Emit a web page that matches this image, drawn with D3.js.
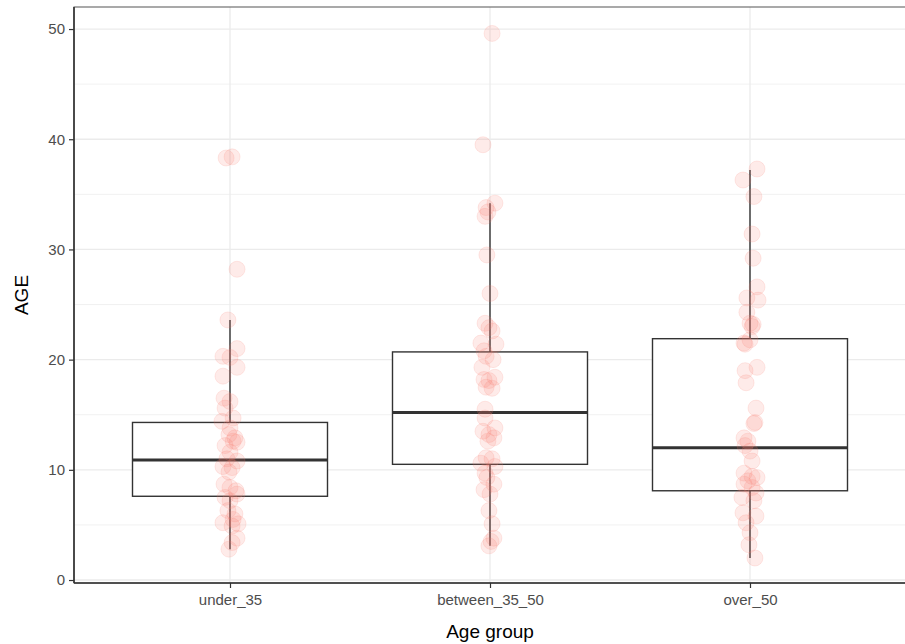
<!DOCTYPE html>
<html>
<head>
<meta charset="utf-8">
<script src="https://cdn.jsdelivr.net/npm/d3@7"></script>
<style>
  body { margin: 0; background: #fff; }
  text { font-family: "Liberation Sans", Arial, sans-serif; }
</style>
</head>
<body>
<div id="chart"></div>
<script>
// categories and box statistics
var groups = ["under_35", "between_35_50", "over_50"];
var whiskerLow = [2.8, 3.1, 2.0];
var lowerHinge = [7.6, 10.5, 8.1];
var medians = [10.9, 15.2, 12.0];
var upperHinge = [14.3, 20.7, 21.9];
var whiskerHigh = [23.6, 34.2, 37.2];

// jittered observations (value, horizontal jitter in category units)
var under35Age = [38.3, 38.4, 28.2, 23.6, 21.0, 20.3, 20.2, 19.3, 18.5, 16.5, 16.2, 15.6, 14.7, 14.4, 13.8, 13.2, 12.9, 12.6, 12.5, 12.2, 11.6, 11.0, 10.8, 10.3, 10.2, 9.8, 8.7, 8.4, 8.1, 7.8, 7.5, 7.2, 6.3, 6.0, 5.5, 5.2, 5.1, 4.9, 3.8, 3.4, 2.8];
var under35Jitter = [-0.015, 0.008, 0.027, -0.008, 0.027, -0.027, 0, 0.027, -0.027, -0.023, 0, -0.019, 0.012, -0.031, 0, -0.004, 0.019, 0.012, 0.027, -0.019, 0, -0.012, 0.027, -0.027, 0.008, -0.004, -0.023, 0, 0.023, 0.027, -0.019, 0, -0.008, 0.019, 0.012, -0.027, 0.031, 0.008, 0.027, 0.008, -0.004];

var betweenAge = [49.6, 39.5, 34.2, 33.8, 33.4, 33.0, 29.5, 26.0, 23.3, 22.9, 22.6, 21.5, 21.4, 20.8, 20.3, 20.0, 19.3, 18.4, 18.2, 18.1, 17.5, 17.4, 15.5, 14.7, 13.8, 13.5, 13.2, 12.9, 12.6, 11.1, 11.0, 10.6, 10.3, 9.7, 9.3, 8.7, 8.2, 7.8, 6.3, 5.1, 3.8, 3.5, 3.1];
var betweenJitter = [0.008, -0.027, 0.019, -0.015, -0.008, -0.019, -0.012, 0, -0.019, -0.004, 0.008, -0.035, 0.023, -0.023, -0.015, 0.012, -0.031, 0.019, -0.023, -0.004, -0.015, 0.008, -0.019, -0.019, 0.019, -0.027, -0.004, 0.015, -0.008, -0.015, 0.008, -0.035, 0.019, -0.019, -0.012, 0.015, -0.023, 0, -0.004, 0.008, 0.015, 0.004, -0.004];

var over50Age = [37.3, 36.3, 34.8, 31.4, 29.2, 26.6, 25.6, 25.4, 24.3, 23.3, 23.2, 23.0, 21.8, 21.5, 21.4, 19.3, 19.0, 17.9, 15.6, 14.3, 14.2, 12.9, 12.6, 12.2, 11.7, 10.8, 9.7, 9.4, 9.3, 9.0, 8.7, 8.4, 7.9, 7.5, 7.2, 6.1, 5.8, 5.2, 4.3, 3.2, 2.0];
var over50Jitter = [0.027, -0.027, 0.015, 0.008, 0.012, 0.027, -0.012, 0.031, -0.012, 0, 0.012, 0.008, 0, -0.023, -0.019, 0.027, -0.019, -0.015, 0.023, 0.019, 0.015, -0.023, -0.008, -0.019, 0, 0.008, -0.023, 0.008, 0.027, -0.008, -0.023, 0.008, 0.023, -0.031, 0.015, -0.027, 0.023, -0.015, 0, -0.004, 0.019];

var yTicks = [0, 10, 20, 30, 40, 50];
var yMinor = [5, 15, 25, 35, 45];

var width = 905, height = 644;
var padL = 74, padR = 906, padT = 7, padB = 583;

var svg = d3.select("#chart").append("svg").attr("width", width).attr("height", height);

var x = d3.scalePoint().domain(groups).range([padL, padR]).padding(0.6);
var step = x.step();
var y = d3.scaleLinear().domain([-0.27, 52]).range([padB, padT]);

var points = [];
[[under35Age, under35Jitter], [betweenAge, betweenJitter], [over50Age, over50Jitter]].forEach(function(g, i) {
	g[0].forEach(function(v, j) { points.push({ group: groups[i], age: v, jit: g[1][j] }); });
});

var boxes = groups.map(function(g, i) {
	return { group: g, lo: whiskerLow[i], q1: lowerHinge[i], med: medians[i], q3: upperHinge[i], hi: whiskerHigh[i] };
});

// grid
var grid = svg.append("g");
grid.selectAll(".minor").data(yMinor).enter().append("line")
	.attr("x1", padL).attr("x2", padR).attr("y1", d => y(d)).attr("y2", d => y(d))
	.style("stroke", "#EBEBEB").style("stroke-width", 0.7);
grid.selectAll(".major").data(yTicks).enter().append("line")
	.attr("x1", padL).attr("x2", padR).attr("y1", d => y(d)).attr("y2", d => y(d))
	.style("stroke", "#EBEBEB").style("stroke-width", 1.3);
grid.selectAll(".vmajor").data(groups).enter().append("line")
	.attr("x1", d => x(d)).attr("x2", d => x(d)).attr("y1", padT).attr("y2", padB)
	.style("stroke", "#EBEBEB").style("stroke-width", 1.3);

// boxplots
var boxW = step * 0.75;
var bx = svg.append("g");
bx.selectAll(".wlo").data(boxes).enter().append("line")
	.attr("x1", d => x(d.group)).attr("x2", d => x(d.group)).attr("y1", d => y(d.lo)).attr("y2", d => y(d.q1))
	.style("stroke", "#333").style("stroke-width", 1.4);
bx.selectAll(".whi").data(boxes).enter().append("line")
	.attr("x1", d => x(d.group)).attr("x2", d => x(d.group)).attr("y1", d => y(d.q3)).attr("y2", d => y(d.hi))
	.style("stroke", "#333").style("stroke-width", 1.4);
bx.selectAll("rect").data(boxes).enter().append("rect")
	.attr("x", d => x(d.group) - boxW / 2).attr("width", boxW)
	.attr("y", d => y(d.q3)).attr("height", d => y(d.q1) - y(d.q3))
	.style("fill", "#fff").style("stroke", "#333").style("stroke-width", 1.4);
bx.selectAll(".med").data(boxes).enter().append("line")
	.attr("x1", d => x(d.group) - boxW / 2).attr("x2", d => x(d.group) + boxW / 2)
	.attr("y1", d => y(d.med)).attr("y2", d => y(d.med))
	.style("stroke", "#333").style("stroke-width", 3);

// jittered points
svg.append("g").selectAll("circle").data(points).enter().append("circle")
	.attr("cx", d => x(d.group) + d.jit * step).attr("cy", d => y(d.age)).attr("r", 8)
	.style("fill", "#F8766D").style("fill-opacity", 0.15)
	.style("stroke", "#F8766D").style("stroke-opacity", 0.15);

// panel border and axis lines
svg.append("rect").attr("x", padL).attr("y", padT).attr("width", padR - padL).attr("height", padB - padT)
	.style("fill", "none").style("stroke", "#555").style("stroke-width", 1);
svg.append("line").attr("x1", padL).attr("x2", padR).attr("y1", padB).attr("y2", padB)
	.style("stroke", "#333").style("stroke-width", 1.6);
svg.append("line").attr("x1", padL).attr("x2", padL).attr("y1", padT).attr("y2", padB)
	.style("stroke", "#333").style("stroke-width", 1.6);

// axes
var yAxis = d3.axisLeft(y).tickValues(yTicks).tickSize(5).tickPadding(4);
var gy = svg.append("g").attr("transform", "translate(" + padL + ",0)").call(yAxis);
var xAxis = d3.axisBottom(x).tickSize(5).tickPadding(6);
var gx = svg.append("g").attr("transform", "translate(0," + padB + ")").call(xAxis);
[gy, gx].forEach(function(g) {
	g.select(".domain").remove();
	g.selectAll(".tick line").style("stroke", "#333").style("stroke-width", 1.2);
	g.selectAll(".tick text").style("fill", "#4D4D4D").style("font-size", "15px")
		.style("font-family", "'Liberation Sans', Arial, sans-serif");
});

svg.append("text").attr("x", (padL + padR) / 2).attr("y", 638).attr("text-anchor", "middle")
	.style("font-size", "19px").style("fill", "#000").text("Age group");
svg.append("text").attr("transform", "translate(28," + (padT + padB) / 2 + ") rotate(-90)")
	.attr("text-anchor", "middle").style("font-size", "19px").style("fill", "#000").text("AGE");
</script>
</body>
</html>
